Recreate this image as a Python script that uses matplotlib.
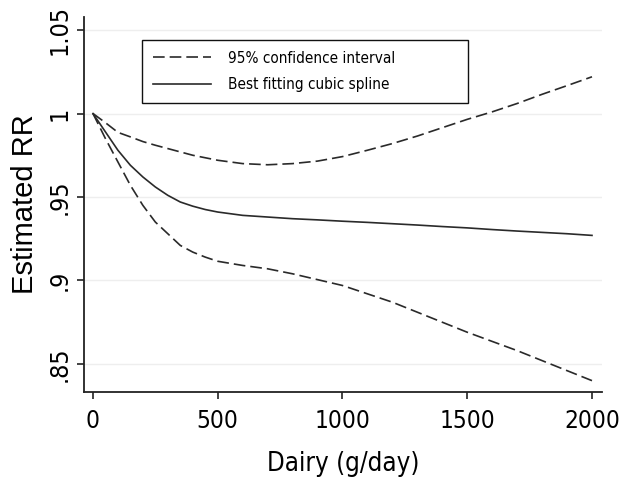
import matplotlib
matplotlib.use('Agg')
import matplotlib.pyplot as plt
from matplotlib import font_manager

# dose-response of dairy intake vs estimated relative risk
dairy = [0, 50, 100, 150, 200, 250, 300, 350, 400, 450, 500, 600, 700, 800, 900, 1000,
         1100, 1200, 1300, 1400, 1500, 1600, 1700, 1800, 1900, 2000]
rr_spline = [1.000, 0.989, 0.978, 0.969, 0.962, 0.956, 0.951, 0.947, 0.9445, 0.9425, 0.941,
             0.939, 0.938, 0.937, 0.9363, 0.9355, 0.9348, 0.934, 0.9332, 0.9323, 0.9315,
             0.9305, 0.9296, 0.9288, 0.928, 0.927]
rr_upper = [1.000, 0.9945, 0.9887, 0.986, 0.9832, 0.981, 0.979, 0.977, 0.975, 0.9735, 0.972,
            0.970, 0.9693, 0.970, 0.9715, 0.9742, 0.978, 0.982, 0.9865, 0.9915, 0.9965,
            1.001, 1.006, 1.0115, 1.0167, 1.022]
rr_lower = [1.000, 0.985, 0.971, 0.957, 0.945, 0.935, 0.928, 0.921, 0.917, 0.914, 0.9115,
            0.909, 0.907, 0.904, 0.9005, 0.897, 0.892, 0.887, 0.881, 0.875, 0.869,
            0.8635, 0.858, 0.852, 0.846, 0.840]

x_ticks = [0, 500, 1000, 1500, 2000]
y_ticks = [0.85, 0.9, 0.95, 1.0, 1.05]
y_tick_labels = ['.85', '.9', '.95', '1', '1.05']

# look for a narrow / condensed sans face
narrow_file = None
for f in font_manager.fontManager.ttflist:
    if 'Narrow' in f.name or (f.name == 'DejaVu Sans' and f.stretch == 'condensed'
                              and f.style == 'normal' and f.weight in (400, 'normal')):
        narrow_file = f.fname
        break
if narrow_file:
    narrow_name = font_manager.FontProperties(fname=narrow_file).get_name()
else:
    narrow_name = 'Liberation Sans'

plt.rcParams['font.family'] = [narrow_name, 'DejaVu Sans']
plt.rcParams['font.stretch'] = 'condensed'

fig = plt.figure(figsize=(6.22, 4.86), dpi=100)
ax = fig.add_axes([0.1350, 0.1934, 0.8328, 0.7716])

line_col = '#2a2a2a'
ax.plot(dairy, rr_upper, color=line_col, lw=1.2, dashes=(7, 3),
        label='95% confidence interval')
ax.plot(dairy, rr_spline, color=line_col, lw=1.2, label='Best fitting cubic spline')
ax.plot(dairy, rr_lower, color=line_col, lw=1.2, dashes=(7, 3))

ax.set_xlim(-36, 2040)
ax.set_ylim(0.8332, 1.0578)

ax.set_xticks(x_ticks)
ax.set_xticklabels([str(v) for v in x_ticks], fontsize=17.5)
ax.set_yticks(y_ticks)
ax.set_yticklabels(y_tick_labels, fontsize=18, rotation=90, va='center')
ax.tick_params(axis='x', length=5, width=1.2, color='#222222', pad=7)
ax.tick_params(axis='y', length=5, width=1.2, color='#222222', pad=4)

ax.grid(axis='y', color='#eeeeee', lw=1)
ax.set_axisbelow(True)

for side in ['top', 'right']:
    ax.spines[side].set_visible(False)
for side in ['left', 'bottom']:
    ax.spines[side].set_color('#222222')
    ax.spines[side].set_linewidth(1.3)

ax.set_xlabel('Dairy (g/day)', fontsize=18.5, labelpad=13)
ax.set_ylabel('Estimated RR', fontsize=21, labelpad=6, family='Liberation Sans',
              stretch='normal')

leg = ax.legend(loc='upper left', bbox_to_anchor=(0.112, 0.771, 0.629, 0.168),
                mode='expand', fontsize=11, handlelength=3.8, handletextpad=1.1,
                labelspacing=0.75, borderpad=0.7, borderaxespad=0,
                fancybox=False, framealpha=1, edgecolor='#111111')
leg.get_frame().set_linewidth(1.0)

fig.savefig('out.png', dpi=100)
